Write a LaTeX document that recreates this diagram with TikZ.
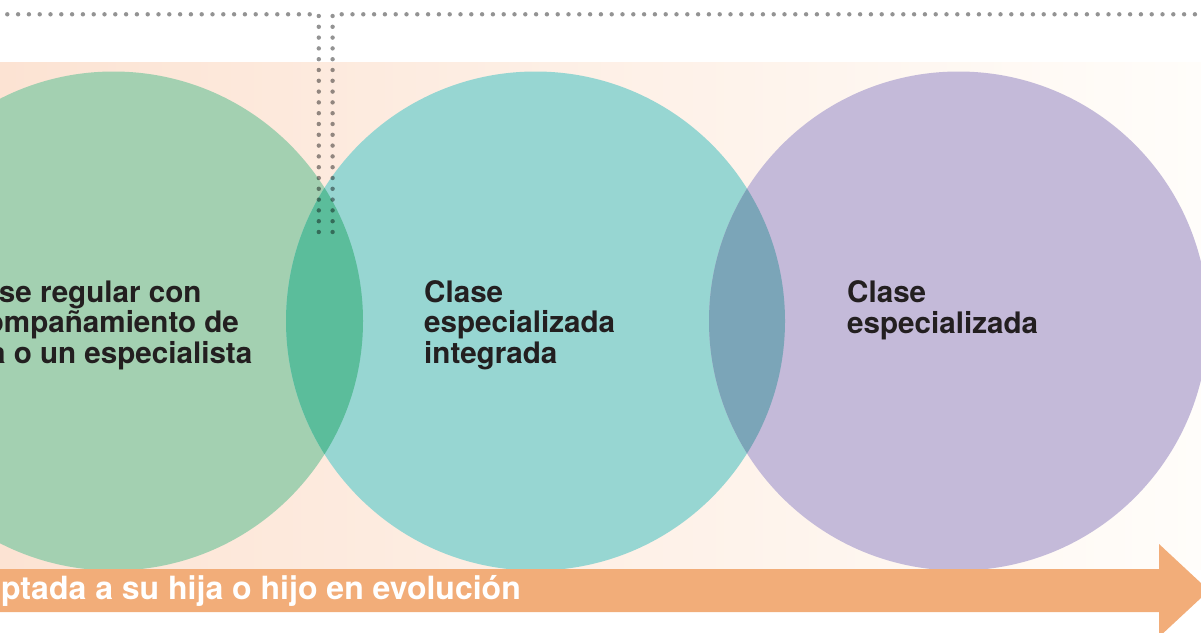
\documentclass[tikz,border=0pt]{standalone}
\usepackage{fontspec}
\setmainfont{TeX Gyre Heros}
\usepackage{tikz}
\usetikzlibrary{positioning}
\definecolor{gruen}{HTML}{A3D0B1}
\definecolor{tuerkis}{HTML}{97D6D2}
\definecolor{lila}{HTML}{C4BAD9}
\definecolor{lensa}{HTML}{5BBD9B}
\definecolor{lensb}{HTML}{7BA5B8}
\definecolor{bgl}{HTML}{FCE3D3}
\definecolor{bgr}{HTML}{FFFDFA}
\definecolor{naranja}{HTML}{F2AD79}
\definecolor{punkt}{HTML}{939393}
\definecolor{ink}{HTML}{231F20}
\tikzset{
    bubble/.style={circle, minimum size=499pt, inner sep=0pt},
    blurb/.style={align=left, anchor=base west, inner sep=0pt, text=ink,
        font=\bfseries\fontsize{29.6}{30.5}\selectfont},
    dotline/.style={draw=punkt, line width=4.4pt, line cap=round,
        dash pattern=on 0pt off 10.8pt, blend mode=multiply}
}

\begin{document}
\begin{tikzpicture}[x=1pt, y=-1pt]
    \useasboundingbox (0,0) rectangle (1201,632);
    \clip (0,0) rectangle (1201,632);
    \shade[left color=bgl, right color=bgr] (0,62) rectangle (1201,569);
    \node[bubble, fill=gruen] (c1) at (113.5,321) {};
    \node[bubble, fill=tuerkis] (c2) at (535.5,321) {};
    \node[bubble, fill=lila] (c3) at (958.5,321) {};
    \begin{scope}
        \clip (c1.center) circle (249.5pt);
        \fill[lensa] (c2.center) circle (249.5pt);
    \end{scope}
    \begin{scope}
        \clip (c2.center) circle (249.5pt);
        \fill[lensb] (c3.center) circle (249.5pt);
    \end{scope}
    \coordinate (la) at (318.8,232);
    \coordinate (lb) at (318.8,14.3);
    \coordinate (lc) at (0,14.3);
    \coordinate (ra) at (332.6,232);
    \coordinate (rb) at (332.6,14.3);
    \coordinate (rc) at (1210,14.3);
    \draw[dotline] (la) -- (lb) -- (lc);
    \draw[dotline] (ra) -- (rb) -- (rc);
    \node[blurb] (t1) at (-47.3,363) {Clase regular con\\acompañamiento de\\una o un especialista};
    \node[blurb] (t2) at (424,363) {Clase\\especializada\\integrada};
    \node[blurb] (t3) at (847,333) {Clase\\especializada};
    \fill[naranja] (0,569) -- (1159,569) -- (1159,544) -- (1209,590.5)
        -- (1159,637) -- (1159,612) -- (0,612) -- cycle;
    \node[blurb, text=white, anchor=base east, font=\bfseries\fontsize{32}{34}\selectfont] (t4) at (521,599) {adaptada a su hija o hijo en evolución};
\end{tikzpicture}
\end{document}
